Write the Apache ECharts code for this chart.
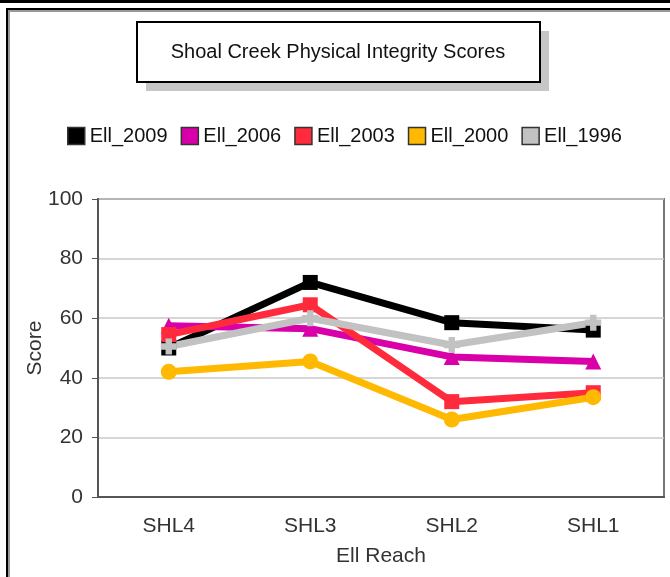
<!DOCTYPE html>
<html>
<head>
<meta charset="utf-8">
<title>Shoal Creek Physical Integrity Scores</title>
<script src="https://cdn.jsdelivr.net/npm/echarts@6/dist/echarts.min.js"></script>
<style>
  html, body { margin: 0; padding: 0; background: #fff; }
  #main { width: 670px; height: 577px; }
</style>
</head>
<body>
<div id="main"></div>
<script>
// reaches along the creek, in the order they are plotted
var reaches = ['SHL4', 'SHL3', 'SHL2', 'SHL1'];
var yTicks = [0, 20, 40, 60, 80, 100];

// scores per survey year
var ell2009 = [50, 72, 58.5, 56];
var ell2006 = [57.5, 56.5, 47, 45.5];
var ell2003 = [54.5, 64.5, 32, 35];
var ell2000 = [42, 45.5, 26, 33.5];
var ell1996 = [50.5, 60, 51, 58.5];

var seriesNames = ['Ell_2009', 'Ell_2006', 'Ell_2003', 'Ell_2000', 'Ell_1996'];
var seriesData = [ell2009, ell2006, ell2003, ell2000, ell1996];
var colors = ['#000000', '#d900aa', '#ff2b3c', '#ffb900', '#c2c2c2'];
var plusPath = 'path://M3,0 L7,0 L7,3 L10,3 L10,7 L7,7 L7,10 L3,10 L3,7 L0,7 L0,3 L3,3 Z';
var symbols = ['rect', 'triangle', 'rect', 'circle', plusPath];
var symbolSizes = [15, 16, 15, 16, 16];

var font = 'Liberation Sans, Arial, sans-serif';
var fs = 21;
var chart = echarts.init(document.getElementById('main'));

var series = seriesNames.map(function (name, i) {
    return {
        name: name,
        type: 'line',
        data: seriesData[i],
        symbol: symbols[i],
        symbolSize: symbolSizes[i],
        showAllSymbol: true,
        lineStyle: { width: 7, color: colors[i] },
        itemStyle: { color: colors[i] },
        emphasis: { disabled: true }
    };
});

var option = {
    animation: false,
    textStyle: { fontFamily: font },
    legend: {
        top: 121,
        left: 62,
        icon: 'rect',
        itemWidth: 17,
        itemHeight: 17,
        itemGap: 13,
        textStyle: { fontSize: 20, color: '#111', padding: [0, 0, 0, 0] },
        data: seriesNames.map(function (n, i) {
            return { name: n, itemStyle: { color: colors[i], borderColor: '#333', borderWidth: 1.5 } };
        })
    },
    grid: {
        left: 98,
        right: 6,
        top: 199,
        bottom: 80,
        show: true,
        borderColor: '#777',
        borderWidth: 2,
        backgroundColor: '#fff'
    },
    xAxis: {
        type: 'category',
        data: reaches,
        name: 'Ell Reach',
        nameLocation: 'middle',
        nameGap: 49,
        nameTextStyle: { fontSize: fs, color: '#333' },
        axisLine: { lineStyle: { color: '#555', width: 2 } },
        axisTick: { alignWithLabel: true, length: 6, lineStyle: { color: '#555' } },
        axisLabel: { fontSize: fs, color: '#333', margin: 19 }
    },
    yAxis: {
        type: 'value',
        min: yTicks[0],
        max: yTicks[yTicks.length - 1],
        interval: yTicks[1] - yTicks[0],
        name: 'Score',
        nameLocation: 'middle',
        nameGap: 52,
        nameMoveOverlap: false,
        nameTextStyle: { fontSize: fs, color: '#333' },
        axisLine: { show: true, lineStyle: { color: '#555', width: 2 } },
        axisTick: { show: true, length: 6, lineStyle: { color: '#555' } },
        axisLabel: { fontSize: fs, color: '#333', margin: 15 },
        splitLine: { lineStyle: { color: '#c8c8c8', width: 1.5 } }
    },
    graphic: [
        // frame lines from the surrounding page
        { type: 'rect', shape: { x: 0, y: 0, width: 670, height: 3 }, style: { fill: '#000' }, silent: true },
        { type: 'rect', shape: { x: 6, y: 8, width: 664, height: 2 }, style: { fill: '#000' }, silent: true },
        { type: 'rect', shape: { x: 8, y: 10, width: 662, height: 2 }, style: { fill: '#999' }, silent: true },
        { type: 'rect', shape: { x: 6, y: 8, width: 2, height: 569 }, style: { fill: '#000' }, silent: true },
        { type: 'rect', shape: { x: 8, y: 10, width: 2, height: 567 }, style: { fill: '#999' }, silent: true },
        // title box with its drop shadow
        { type: 'rect', shape: { x: 146, y: 31, width: 403, height: 60 }, style: { fill: '#c6c6c6' }, silent: true },
        { type: 'rect', shape: { x: 137, y: 22, width: 403, height: 60 }, style: { fill: '#fff', stroke: '#000', lineWidth: 2 }, silent: true },
        {
            type: 'text', x: 338, y: 52, silent: true,
            style: {
                text: 'Shoal Creek Physical Integrity Scores',
                align: 'center', verticalAlign: 'middle',
                font: '20px ' + font, fill: '#111'
            }
        }
    ],
    series: series
};

chart.setOption(option);
</script>
</body>
</html>
